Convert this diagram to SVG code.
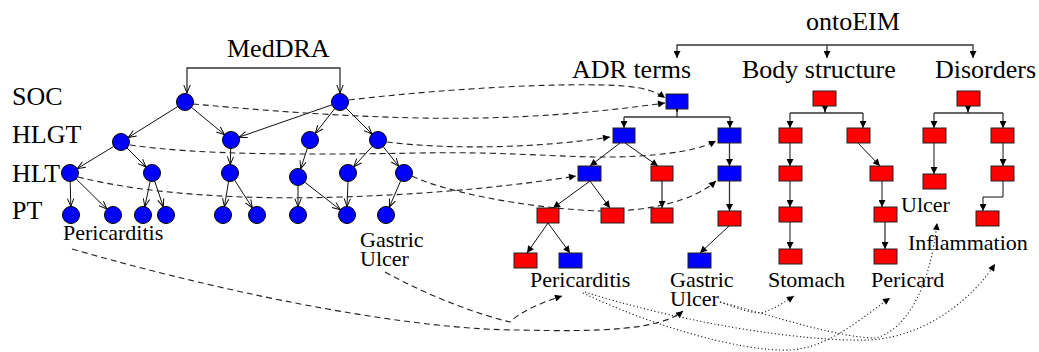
<svg xmlns="http://www.w3.org/2000/svg" width="1039" height="352" viewBox="0 0 1039 352">
<defs>
<style>
text{font-family:"Liberation Serif","Times New Roman",serif;fill:#000}
.h{font-size:26px}
.l{font-size:22px}
.c{fill:#0000ff;stroke:#000;stroke-width:1}
.b{fill:#0000ff;stroke:#222;stroke-width:1}
.r{fill:#ff0000;stroke:#222;stroke-width:1}
.e{fill:none;stroke:#111;stroke-width:1}
.g{fill:none;stroke:#333;stroke-width:1.3}
.d{fill:none;stroke:#222;stroke-width:1.1;stroke-dasharray:6 4}
.t{fill:none;stroke:#222;stroke-width:1.1;stroke-dasharray:1.2 2.4}
</style>
<marker id="va" viewBox="0 0 10 10" refX="10" refY="5" markerWidth="9" markerHeight="8" markerUnits="userSpaceOnUse" orient="auto"><path d="M0,1 L10,5 L0,9" fill="none" stroke="#000" stroke-width="1.2"/></marker>
<marker id="ta" viewBox="0 0 10 10" refX="10" refY="5" markerWidth="9" markerHeight="7" markerUnits="userSpaceOnUse" orient="auto"><path d="M0,0 L10,5 L0,10 z" fill="#000"/></marker>
</defs>
<rect width="1039" height="352" fill="#fff"/>

<g id="labels">
<text class="h" x="227" y="57">MedDRA</text>
<text class="h" x="806" y="30">ontoEIM</text>
<text class="h" x="572" y="78">ADR terms</text>
<text class="h" x="742" y="78">Body structure</text>
<text class="h" x="935" y="78">Disorders</text>
<text class="h" x="12" y="105">SOC</text>
<text class="h" x="12" y="143">HLGT</text>
<text class="h" x="12" y="182">HLT</text>
<text class="h" x="12" y="219">PT</text>
<text class="l" x="63" y="240">Pericarditis</text>
<text class="l" x="360" y="247">Gastric<tspan x="360" y="266">Ulcer</tspan></text>
<text class="l" x="530" y="287">Pericarditis</text>
<text class="l" x="670" y="287">Gastric<tspan x="670" y="306">Ulcer</tspan></text>
<text class="l" x="768" y="287">Stomach</text>
<text class="l" x="871" y="287">Pericard</text>
<text class="l" x="901" y="212">Ulcer</text>
<text class="l" x="908" y="250">Inflammation</text>
</g>

<g id="connectors">
<!-- MedDRA bracket -->
<path class="g" d="M264,68 H187 V93" marker-end="url(#va)"/>
<path class="g" d="M264,68 H340 V93" marker-end="url(#va)"/>
<!-- left tree -->
<path class="e" d="M177.8,106.5 L128.2,137.5" marker-end="url(#va)"/>
<path class="e" d="M191.5,107.4 L224.5,134.6" marker-end="url(#va)"/>
<path class="e" d="M332,104.8 L239,137.2" marker-end="url(#va)"/>
<path class="e" d="M334.7,108.7 L315.3,133.3" marker-end="url(#va)"/>
<path class="e" d="M346,108 L372,134" marker-end="url(#va)"/>
<path class="e" d="M113.7,146.4 L77.3,168.6" marker-end="url(#va)"/>
<path class="e" d="M127,148 L146,167" marker-end="url(#va)"/>
<path class="e" d="M230.7,148.5 L230.3,164.5" marker-end="url(#va)"/>
<path class="e" d="M307.4,148.1 L300.6,168.9" marker-end="url(#va)"/>
<path class="e" d="M372.3,146.3 L353.7,166.7" marker-end="url(#va)"/>
<path class="e" d="M383.3,146.7 L398.7,166.3" marker-end="url(#va)"/>
<path class="e" d="M70.2,181.5 L70.8,206.5" marker-end="url(#va)"/>
<path class="e" d="M76.1,178.9 L106.9,209.1" marker-end="url(#va)"/>
<path class="e" d="M150.2,181.3 L144.8,206.7" marker-end="url(#va)"/>
<path class="e" d="M154.7,181.1 L163.3,206.9" marker-end="url(#va)"/>
<path class="e" d="M228.6,181.4 L224.4,206.6" marker-end="url(#va)"/>
<path class="e" d="M234.6,180.1 L252.4,207.9" marker-end="url(#va)"/>
<path class="e" d="M298,185.5 L298,206.5" marker-end="url(#va)"/>
<path class="e" d="M304.7,182.2 L340.3,209.8" marker-end="url(#va)"/>
<path class="e" d="M348,181.5 L347,206.5" marker-end="url(#va)"/>
<path class="e" d="M400.7,180.8 L389.3,207.2" marker-end="url(#va)"/>
<!-- ontoEIM bracket -->
<path class="g" d="M827,45 H677 V58" marker-end="url(#ta)"/>
<path class="g" d="M827,45 V58" marker-end="url(#ta)"/>
<path class="g" d="M827,45 H973 V58" marker-end="url(#ta)"/>
<!-- ADR terms -->
<path class="g" d="M677,109 V117 M624,117 H730"/>
<path class="g" d="M677,103 V112" marker-end="url(#ta)"/>
<path class="g" d="M624,117 V128" marker-end="url(#ta)"/>
<path class="g" d="M730,117 V128" marker-end="url(#ta)"/>
<path class="e" d="M620,143 L590,166" marker-end="url(#ta)"/>
<path class="e" d="M625,143 L658,166" marker-end="url(#ta)"/>
<path class="g" d="M662,181 V208" marker-end="url(#ta)"/>
<path class="g" d="M729.5,143 V166" marker-end="url(#ta)"/>
<path class="g" d="M729.5,181 V211" marker-end="url(#ta)"/>
<path class="e" d="M729,226 L700,253" marker-end="url(#ta)"/>
<path class="e" d="M590,181 L553,208" marker-end="url(#ta)"/>
<path class="e" d="M590,181 L610,208" marker-end="url(#ta)"/>
<path class="e" d="M548,223 L527,253" marker-end="url(#ta)"/>
<path class="e" d="M548,223 L570,253" marker-end="url(#ta)"/>
<!-- Body structure -->
<path class="g" d="M825,106 V113 M790,113 H863"/>
<path class="g" d="M825,100 V112" marker-end="url(#ta)"/>
<path class="g" d="M790,113 V128" marker-end="url(#ta)"/>
<path class="g" d="M863,113 V128" marker-end="url(#ta)"/>
<path class="e" d="M790,143 V166" marker-end="url(#ta)"/>
<path class="e" d="M790,181 V207" marker-end="url(#ta)"/>
<path class="e" d="M790,222 V249" marker-end="url(#ta)"/>
<path class="e" d="M858,143 L880,166" marker-end="url(#ta)"/>
<path class="e" d="M882,181 V207" marker-end="url(#ta)"/>
<path class="g" d="M885,222 V249" marker-end="url(#ta)"/>
<!-- Disorders -->
<path class="g" d="M968,106 V113 M934,113 H1003"/>
<path class="g" d="M968,100 V112" marker-end="url(#ta)"/>
<path class="g" d="M934,113 V128" marker-end="url(#ta)"/>
<path class="g" d="M1003,113 V128" marker-end="url(#ta)"/>
<path class="e" d="M934,143 V174" marker-end="url(#ta)"/>
<path class="e" d="M1003,143 V166" marker-end="url(#ta)"/>
<path class="e" d="M1003,181 V197 H983 V211" marker-end="url(#ta)"/>
<!-- dashed mappings -->
<path class="d" d="M349,100 C450,88 570,82 625,86 C645,88 657,92 665,98" marker-end="url(#ta)"/>
<path class="d" d="M193,104 C260,110 330,116 420,118 C520,120 600,112 665,103" marker-end="url(#ta)"/>
<path class="d" d="M387,142 C450,150 540,148 610,137" marker-end="url(#ta)"/>
<path class="d" d="M130,145 C200,155 300,155 420,153 C520,151 580,160 640,156 C680,153 700,149 716,141" marker-end="url(#ta)"/>
<path class="d" d="M78,177 C150,195 250,200 340,197 C440,194 520,185 576,176" marker-end="url(#ta)"/>
<path class="d" d="M412,176 C440,190 520,208 600,211 C650,212 695,200 716,181" marker-end="url(#ta)"/>
<path class="d" d="M72,249 C250,300 420,330 520,330 C600,332 660,330 683,311" marker-end="url(#ta)"/>
<path class="d" d="M385,272 C430,297 480,315 510,322 C520,312 540,303 562,296" marker-end="url(#ta)"/>
<!-- dotted mappings -->
<path class="t" d="M583,293 C650,325 740,352 790,350 C830,348 865,315 890,298" marker-end="url(#ta)"/>
<path class="t" d="M585,292 C680,322 800,342 870,340 C930,336 975,295 995,264" marker-end="url(#ta)"/>
<path class="t" d="M720,302 C740,309 755,315 765,312 C775,308 785,302 794,296" marker-end="url(#ta)"/>
<path class="t" d="M720,302 C780,318 840,338 876,338 C905,330 930,290 937,223" marker-end="url(#ta)"/>
</g>

<g id="medDRA-nodes">
<g id="soc1"><circle class="c" cx="185" cy="102" r="8.5"/></g>
<g id="soc2"><circle class="c" cx="340" cy="102" r="8.5"/></g>
<g id="hlgt1"><circle class="c" cx="121" cy="142" r="8.5"/></g>
<g id="hlgt2"><circle class="c" cx="231" cy="140" r="8.5"/></g>
<g id="hlgt3"><circle class="c" cx="310" cy="140" r="8.5"/></g>
<g id="hlgt4"><circle class="c" cx="378" cy="140" r="8.5"/></g>
<g id="hlt1"><circle class="c" cx="70" cy="173" r="8.5"/></g>
<g id="hlt2"><circle class="c" cx="152" cy="173" r="8.5"/></g>
<g id="hlt3"><circle class="c" cx="230" cy="173" r="8.5"/></g>
<g id="hlt4"><circle class="c" cx="298" cy="177" r="8.5"/></g>
<g id="hlt5"><circle class="c" cx="348" cy="173" r="8.5"/></g>
<g id="hlt6"><circle class="c" cx="404" cy="173" r="8.5"/></g>
<g id="pt1"><circle class="c" cx="71" cy="215" r="8.5"/></g>
<g id="pt2"><circle class="c" cx="113" cy="215" r="8.5"/></g>
<g id="pt3"><circle class="c" cx="143" cy="215" r="8.5"/></g>
<g id="pt4"><circle class="c" cx="166" cy="215" r="8.5"/></g>
<g id="pt5"><circle class="c" cx="223" cy="215" r="8.5"/></g>
<g id="pt6"><circle class="c" cx="257" cy="215" r="8.5"/></g>
<g id="pt7"><circle class="c" cx="298" cy="215" r="8.5"/></g>
<g id="pt8"><circle class="c" cx="347" cy="215" r="8.5"/></g>
<g id="pt9"><circle class="c" cx="386" cy="215" r="8.5"/></g>
</g>

<g id="adr-nodes">
<g id="adr0"><rect class="b" x="666" y="94" width="22" height="15"/></g>
<g id="adr1"><rect class="b" x="613" y="128" width="22" height="15"/></g>
<g id="adr2"><rect class="b" x="718" y="128" width="23" height="15"/></g>
<g id="adr3"><rect class="b" x="578" y="166" width="23" height="15"/></g>
<g id="adr4"><rect class="r" x="651" y="166" width="22" height="15"/></g>
<g id="adr5"><rect class="b" x="718" y="166" width="23" height="15"/></g>
<g id="adr6"><rect class="r" x="537" y="208" width="22" height="15"/></g>
<g id="adr7"><rect class="r" x="601" y="208" width="23" height="15"/></g>
<g id="adr8"><rect class="r" x="651" y="208" width="22" height="15"/></g>
<g id="adr9"><rect class="r" x="718" y="211" width="23" height="15"/></g>
<g id="adr10"><rect class="r" x="514" y="253" width="23" height="15"/></g>
<g id="adr11"><rect class="b" x="559" y="253" width="23" height="15"/></g>
<g id="adr12"><rect class="b" x="688" y="253" width="23" height="15"/></g>
</g>

<g id="body-nodes">
<g id="bs0"><rect class="r" x="813" y="91" width="23" height="15"/></g>
<g id="bs1"><rect class="r" x="779" y="128" width="23" height="15"/></g>
<g id="bs2"><rect class="r" x="779" y="166" width="23" height="15"/></g>
<g id="bs3"><rect class="r" x="779" y="207" width="23" height="15"/></g>
<g id="bs4"><rect class="r" x="779" y="249" width="23" height="15"/></g>
<g id="bs5"><rect class="r" x="847" y="128" width="23" height="15"/></g>
<g id="bs6"><rect class="r" x="870" y="166" width="23" height="15"/></g>
<g id="bs7"><rect class="r" x="874" y="207" width="23" height="15"/></g>
<g id="bs8"><rect class="r" x="874" y="249" width="23" height="15"/></g>
</g>

<g id="disorder-nodes">
<g id="ds0"><rect class="r" x="957" y="91" width="23" height="15"/></g>
<g id="ds1"><rect class="r" x="923" y="128" width="23" height="15"/></g>
<g id="ds2"><rect class="r" x="991" y="128" width="23" height="15"/></g>
<g id="ds3"><rect class="r" x="923" y="174" width="23" height="15"/></g>
<g id="ds4"><rect class="r" x="991" y="166" width="23" height="15"/></g>
<g id="ds5"><rect class="r" x="976" y="211" width="23" height="15"/></g>
</g>
</svg>
